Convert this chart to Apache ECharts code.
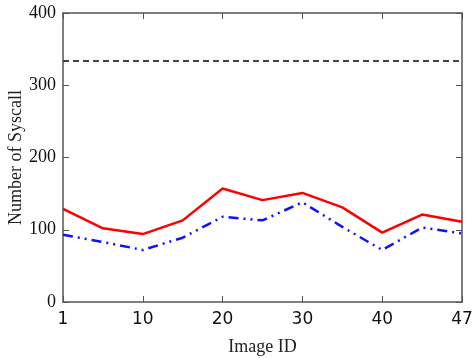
<!DOCTYPE html>
<html>
<head>
<meta charset="utf-8">
<script src="https://cdn.jsdelivr.net/npm/echarts@6/dist/echarts.min.js"></script>
<style>
html,body{margin:0;padding:0;background:#fff;}
#chart{width:475px;height:358px;}
</style>
</head>
<body>
<div id="chart"></div>
<script>
var imageIds = ['1','5','10','15','20','25','30','35','40','45','47'];
var redValues = [129, 102, 94, 113, 157, 141, 151, 131, 96, 121, 111];
var blueValues = [93, 83, 72, 89, 118, 113, 138, 104, 72, 103, 95];
var thresholdValue = 334;
var yTicks = [0, 100, 200, 300, 400];

var chart = echarts.init(document.getElementById('chart'), null, {renderer: 'canvas'});
var axisColor = '#555';
var option = {
  animation: false,
  backgroundColor: '#fff',
  grid: {left: 63, right: 13, top: 13, bottom: 56, containLabel: false, outerBoundsMode: 'none'},
  xAxis: [{
    type: 'category',
    data: imageIds,
    boundaryGap: false,
    name: 'Image ID',
    nameLocation: 'middle',
    nameGap: 36,
    nameMoveOverlap: false,
    nameTextStyle: {fontFamily: 'Liberation Serif', fontSize: 18, color: '#222'},
    axisLine: {show: true, onZero: false, lineStyle: {color: axisColor, width: 1.5}},
    axisTick: {show: true, inside: true, length: 6, interval: 1, lineStyle: {color: axisColor}},
    axisLabel: {interval: 1, margin: 9, fontFamily: 'DejaVu Sans', fontSize: 17, color: '#111'},
    splitLine: {show: false}
  }, {
    type: 'category',
    data: imageIds,
    boundaryGap: false,
    position: 'top',
    axisLine: {show: true, onZero: false, lineStyle: {color: axisColor, width: 1.5}},
    axisTick: {show: true, inside: true, length: 6, interval: 1, lineStyle: {color: axisColor}},
    axisLabel: {show: false},
    splitLine: {show: false}
  }],
  yAxis: [{
    type: 'value',
    min: yTicks[0],
    max: yTicks[yTicks.length - 1],
    interval: 100,
    name: 'Number of Syscall',
    nameLocation: 'middle',
    nameGap: 38,
    nameMoveOverlap: false,
    nameTextStyle: {fontFamily: 'Liberation Serif', fontSize: 18, color: '#222'},
    axisLine: {show: true, onZero: false, lineStyle: {color: axisColor, width: 1.5}},
    axisTick: {show: true, inside: true, length: 6, lineStyle: {color: axisColor}},
    axisLabel: {margin: 7, fontFamily: 'Liberation Serif', fontSize: 18, color: '#111'},
    splitLine: {show: false}
  }, {
    type: 'value',
    min: yTicks[0],
    max: yTicks[yTicks.length - 1],
    interval: 100,
    position: 'right',
    axisLine: {show: true, onZero: false, lineStyle: {color: axisColor, width: 1.5}},
    axisTick: {show: true, inside: true, length: 6, lineStyle: {color: axisColor}},
    axisLabel: {show: false},
    splitLine: {show: false}
  }],
  series: [{
    type: 'line',
    data: redValues,
    symbol: 'none',
    lineStyle: {color: '#ff0000', width: 2.5},
    z: 3,
    markLine: {
      silent: true,
      symbol: 'none',
      label: {show: false},
      lineStyle: {color: '#444', width: 2, type: [6, 4]},
      data: [{yAxis: thresholdValue}]
    }
  }, {
    type: 'line',
    data: blueValues,
    symbol: 'none',
    lineStyle: {color: '#1010ff', width: 2.5, type: [10, 5, 2, 5, 2, 5]},
    z: 2
  }]
};
chart.setOption(option);
</script>
</body>
</html>
